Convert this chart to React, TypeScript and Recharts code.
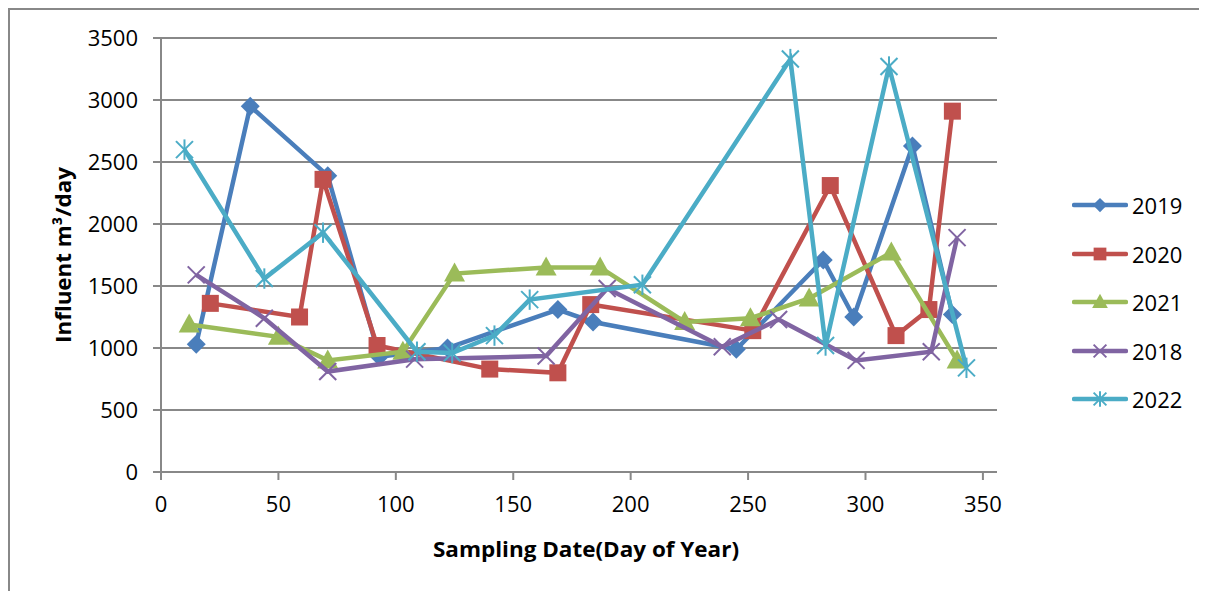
import React from 'react';
import { ScatterChart, Scatter, XAxis, YAxis, CartesianGrid, Label } from 'recharts';

// Day of year and influent flow (m3/day)
const days2019 = [15, 38, 71, 93, 122, 169, 184, 245, 282, 295, 320, 337];
const flow2019 = [1030, 2950, 2390, 930, 1000, 1310, 1210, 990, 1710, 1250, 2630, 1270];

const days2020 = [21, 59, 69, 92, 140, 169, 183, 252, 285, 313, 327, 337];
const flow2020 = [1360, 1250, 2360, 1020, 830, 800, 1350, 1140, 2310, 1100, 1310, 2910];

const days2021 = [12, 50, 71, 103, 125, 164, 187, 223, 251, 276, 311, 339];
const flow2021 = [1190, 1090, 900, 970, 1600, 1650, 1650, 1210, 1240, 1400, 1770, 900];

const days2018 = [15, 44, 71, 108, 164, 190, 239, 263, 296, 328, 339];
const flow2018 = [1590, 1240, 810, 910, 935, 1480, 1010, 1230, 900, 970, 1890];

const days2022 = [10, 44, 69, 109, 124, 142, 157, 205, 268, 283, 310, 343];
const flow2022 = [2600, 1560, 1930, 970, 960, 1100, 1390, 1510, 3330, 1020, 3270, 840];

const xTicks = [0, 50, 100, 150, 200, 250, 300, 350];
const yTicks = [0, 500, 1000, 1500, 2000, 2500, 3000, 3500];

type MarkerKind = 'diamond' | 'square' | 'triangle' | 'cross' | 'star';

const toPoints = (xs: number[], ys: number[]) => xs.map((x, i) => ({ x, y: ys[i] }));

const series: { name: string; color: string; marker: MarkerKind; data: { x: number; y: number }[] }[] = [
    { name: '2019', color: '#4A7EBB', marker: 'diamond', data: toPoints(days2019, flow2019) },
    { name: '2020', color: '#C0504D', marker: 'square', data: toPoints(days2020, flow2020) },
    { name: '2021', color: '#9BBB59', marker: 'triangle', data: toPoints(days2021, flow2021) },
    { name: '2018', color: '#8064A2', marker: 'cross', data: toPoints(days2018, flow2018) },
    { name: '2022', color: '#4BACC6', marker: 'star', data: toPoints(days2022, flow2022) },
];

const GRAY = '#888888';
const FONT = '"Open Sans", Lato, sans-serif';

const Marker = ({ cx, cy, kind, color, s = 1 }: { cx: number; cy: number; kind: MarkerKind; color: string; s?: number }) => {
    if (cx == null || cy == null) return null;
    switch (kind) {
        case 'diamond': {
            const r = 9.5 * s;
            return <polygon points={`${cx},${cy - r} ${cx + r},${cy} ${cx},${cy + r} ${cx - r},${cy}`} fill={color} />;
        }
        case 'square': {
            const h = 8.5 * s;
            return <rect x={cx - h} y={cy - h} width={2 * h} height={2 * h} fill={color} />;
        }
        case 'triangle': {
            const w = 10.5 * s;
            return <polygon points={`${cx},${cy - 11 * s} ${cx + w},${cy + 8 * s} ${cx - w},${cy + 8 * s}`} fill={color} />;
        }
        case 'cross': {
            const r = 8.5 * s;
            return (
                <g stroke={color} strokeWidth={2}>
                    <line x1={cx - r} y1={cy - r} x2={cx + r} y2={cy + r} />
                    <line x1={cx - r} y1={cy + r} x2={cx + r} y2={cy - r} />
                </g>
            );
        }
        default: {
            const r = 8.5 * s;
            return (
                <g stroke={color} strokeWidth={2}>
                    <line x1={cx - r} y1={cy - r} x2={cx + r} y2={cy + r} />
                    <line x1={cx - r} y1={cy + r} x2={cx + r} y2={cy - r} />
                    <line x1={cx} y1={cy - r * 1.2} x2={cx} y2={cy + r * 1.2} />
                </g>
            );
        }
    }
};

export default function App() {
    return (
        <div
            style={{
                position: 'relative',
                width: 1199,
                height: 583,
                borderLeft: `2px solid ${GRAY}`,
                borderTop: `2px solid ${GRAY}`,
                boxSizing: 'border-box',
                background: '#fff',
                fontFamily: FONT,
            }}
        >
            <ScatterChart width={1197} height={581} margin={{ top: 28, right: 210, left: 0, bottom: 0 }}>
                <CartesianGrid vertical={false} stroke={GRAY} strokeWidth={2} />
                <XAxis
                    type="number"
                    dataKey="x"
                    domain={[0, 356]}
                    ticks={xTicks}
                    height={119}
                    tickSize={8}
                    tickMargin={16}
                    axisLine={{ stroke: GRAY, strokeWidth: 2 }}
                    tickLine={{ stroke: GRAY, strokeWidth: 2 }}
                    tick={{ fill: '#000', fontSize: 22, fontFamily: FONT }}
                >
                    <Label
                        content={(p: any) => {
                            const vb = p.viewBox;
                            return (
                                <text x={vb.x + vb.width / 2 + 7} y={vb.y + 76} textAnchor="middle" dominantBaseline="central"
                                    fontSize={22} fontWeight="bold" fontFamily={FONT} fill="#000"
                                    textLength={306} lengthAdjust="spacingAndGlyphs">
                                    Sampling Date(Day of Year)
                                </text>
                            );
                        }}
                    />
                </XAxis>
                <YAxis
                    type="number"
                    dataKey="y"
                    domain={[0, 3500]}
                    ticks={yTicks}
                    width={151}
                    tickSize={8}
                    tickMargin={15}
                    axisLine={{ stroke: GRAY, strokeWidth: 2 }}
                    tickLine={{ stroke: GRAY, strokeWidth: 2 }}
                    tick={{ fill: '#000', fontSize: 22, fontFamily: FONT }}
                >
                    <Label
                        content={(p: any) => {
                            const vb = p.viewBox;
                            const x = vb.x + 52;
                            const y = vb.y + vb.height / 2;
                            return (
                                <text x={x} y={y} transform={`rotate(-90 ${x} ${y})`} textAnchor="middle" dominantBaseline="central"
                                    fontSize={22} fontWeight="bold" fontFamily={FONT} fill="#000"
                                    textLength={176} lengthAdjust="spacingAndGlyphs">
                                    Influent m³/day
                                </text>
                            );
                        }}
                    />
                </YAxis>
                {series.map(s => (
                    <Scatter
                        key={s.name}
                        name={s.name}
                        data={s.data}
                        line={{ stroke: s.color, strokeWidth: 4.5 }}
                        lineType="joint"
                        isAnimationActive={false}
                        shape={(p: any) => <Marker cx={p.cx} cy={p.cy} kind={s.marker} color={s.color} />}
                    />
                ))}
            </ScatterChart>

            {/* legend on the right */}
            <div style={{ position: 'absolute', left: 1062, top: 171 }}>
                {series.map(s => (
                    <div key={s.name} style={{ display: 'flex', alignItems: 'center', height: 48.5 }}>
                        <svg width={56} height={24}>
                            <line x1={2} y1={12} x2={54} y2={12} stroke={s.color} strokeWidth={4.5} strokeLinecap="round" />
                            <Marker cx={28} cy={12} kind={s.marker} color={s.color} s={0.75} />
                        </svg>
                        <span style={{ marginLeft: 4, fontSize: 22, color: '#000' }}>{s.name}</span>
                    </div>
                ))}
            </div>
        </div>
    );
}
